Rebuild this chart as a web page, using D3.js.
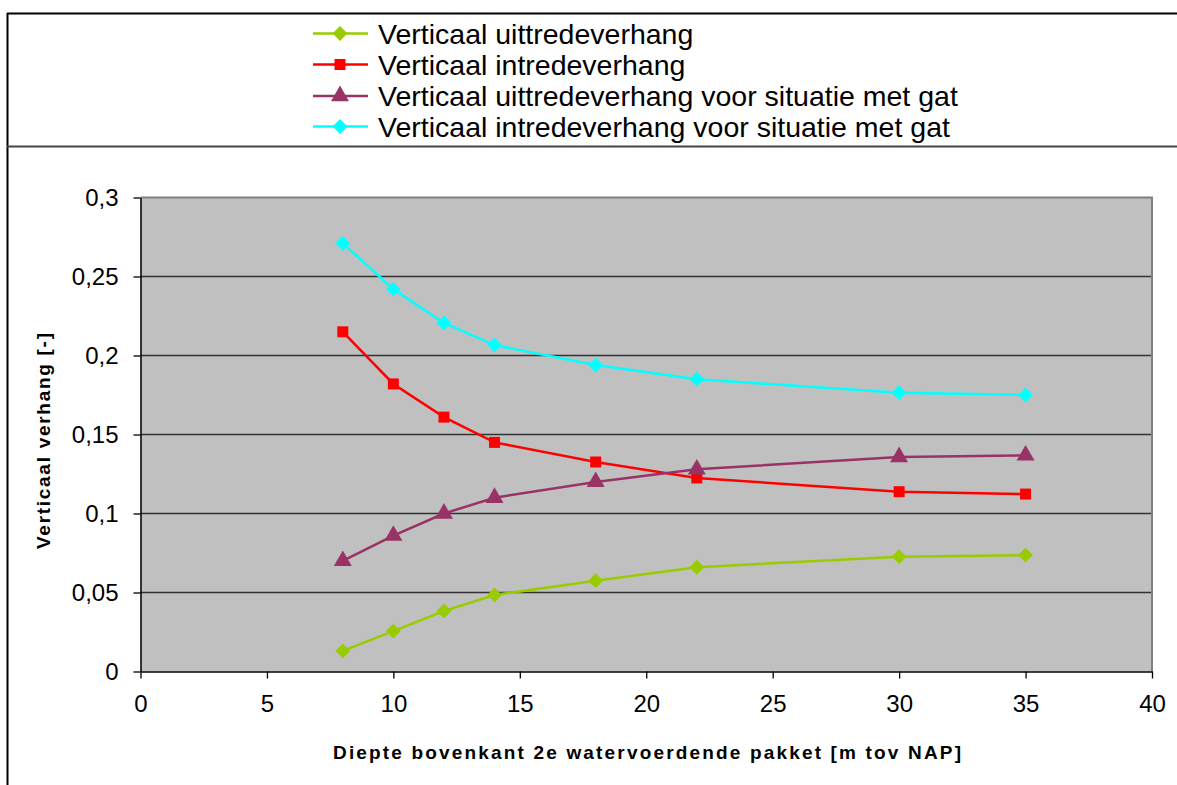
<!DOCTYPE html>
<html>
<head>
<meta charset="utf-8">
<script src="https://cdn.jsdelivr.net/npm/d3@7"></script>
<style>
  html, body { margin: 0; padding: 0; background: #fff; }
  svg { display: block; font-family: "Liberation Sans", Arial, sans-serif; }
</style>
</head>
<body>
<svg id="chart" width="1177" height="785"></svg>
<script>
// Depth of top of 2nd aquifer [m below NAP]
const depths = [8, 10, 12, 14, 18, 22, 30, 35];

// Vertical gradients [-]
const uittrede      = [0.013, 0.0256, 0.0383, 0.0484, 0.0575, 0.066, 0.0727, 0.0737];
const intrede      = [0.215, 0.182, 0.161, 0.145, 0.1326, 0.1225, 0.1138, 0.1123];
const uittredeGat  = [0.070, 0.086, 0.100, 0.110, 0.120, 0.128, 0.1358, 0.1368];
const intredeGat   = [0.271, 0.242, 0.2206, 0.2066, 0.194, 0.185, 0.1765, 0.175];

const seriesNames = [
  "Verticaal uittredeverhang",
  "Verticaal intredeverhang",
  "Verticaal uittredeverhang voor situatie met gat",
  "Verticaal intredeverhang voor situatie met gat"
];

const xTicks = [0, 5, 10, 15, 20, 25, 30, 35, 40];
const yTicks = [0, 0.05, 0.1, 0.15, 0.2, 0.25, 0.3];

const series = [
  { name: seriesNames[0], values: uittrede,     color: "#99cc00", symbol: d3.symbolDiamond2, size: 140 },
  { name: seriesNames[1], values: intrede,      color: "#ff0000", symbol: d3.symbolSquare,   size: 121 },
  { name: seriesNames[2], values: uittredeGat,  color: "#993366", symbol: d3.symbolTriangle, size: 140 },
  { name: seriesNames[3], values: intredeGat,   color: "#00ffff", symbol: d3.symbolDiamond2, size: 140 }
];

const svg = d3.select("#chart");

// Outer frame: legend band on top, chart below
svg.append("line").attr("x1", 7.5).attr("x2", 7.5).attr("y1", 13).attr("y2", 785)
  .attr("stroke", "#000").attr("stroke-width", 2);
svg.append("line").attr("x1", 7).attr("x2", 1177).attr("y1", 13.5).attr("y2", 13.5)
  .attr("stroke", "#000").attr("stroke-width", 2);
svg.append("line").attr("x1", 7).attr("x2", 1177).attr("y1", 146.5).attr("y2", 146.5)
  .attr("stroke", "#444").attr("stroke-width", 2);

// Plot area
const plotLeft = 140.5, plotRight = 1152, plotTop = 197.5, plotBottom = 671.5;
const x = d3.scaleLinear().domain([0, 40]).range([plotLeft, plotRight]);
const y = d3.scaleLinear().domain([0, 0.3]).range([plotBottom, plotTop]);

svg.append("rect")
  .attr("x", plotLeft).attr("y", plotTop)
  .attr("width", plotRight - plotLeft).attr("height", plotBottom - plotTop)
  .attr("fill", "#c0c0c0");

// Horizontal gridlines
svg.append("g")
  .selectAll("line")
  .data(yTicks.filter(t => t > 0 && t < 0.3))
  .join("line")
  .attr("x1", plotLeft).attr("x2", plotRight)
  .attr("y1", d => y(d)).attr("y2", d => y(d))
  .attr("stroke", "#333").attr("stroke-width", 1.3);

// Plot area border (top and right)
svg.append("path")
  .attr("d", `M${plotLeft},${plotTop}H${plotRight}V${plotBottom}`)
  .attr("fill", "none").attr("stroke", "#808080").attr("stroke-width", 2);

const fmt = d => String(d).replace(".", ",");

// Y axis
const yAxis = svg.append("g")
  .attr("transform", `translate(${plotLeft},0)`)
  .call(d3.axisLeft(y).tickValues(yTicks).tickFormat(fmt).tickSize(7).tickSizeOuter(0).tickPadding(15));
yAxis.select(".domain").attr("stroke", "#000").attr("stroke-width", 1.5);
yAxis.selectAll(".tick line").attr("stroke", "#000").attr("stroke-width", 1.3);
yAxis.selectAll("text").attr("font-size", 24).attr("fill", "#000")
  .attr("font-family", "Liberation Sans, Arial, sans-serif");

// X axis
const xAxis = svg.append("g")
  .attr("transform", `translate(0,${plotBottom})`)
  .call(d3.axisBottom(x).tickValues(xTicks).tickFormat(d => d).tickSize(7).tickSizeOuter(0).tickPadding(16));
xAxis.select(".domain").attr("stroke", "#000").attr("stroke-width", 1.5);
xAxis.selectAll(".tick line").attr("stroke", "#000").attr("stroke-width", 1.3);
xAxis.selectAll("text").attr("font-size", 24).attr("fill", "#000")
  .attr("font-family", "Liberation Sans, Arial, sans-serif");

// Axis titles
svg.append("text")
  .attr("transform", "translate(50,441) rotate(-90)")
  .attr("text-anchor", "middle")
  .attr("font-size", 19).attr("font-weight", "bold")
  .attr("textLength", 216).attr("lengthAdjust", "spacing")
  .text("Verticaal verhang [-]");

svg.append("text")
  .attr("x", 647).attr("y", 759)
  .attr("text-anchor", "middle")
  .attr("font-size", 19).attr("font-weight", "bold")
  .attr("textLength", 628).attr("lengthAdjust", "spacing")
  .text("Diepte bovenkant 2e watervoerdende pakket [m tov NAP]");

// Series lines and markers
const line = d3.line().x(d => x(d[0])).y(d => y(d[1]));
series.forEach(s => {
  const pts = depths.map((d, i) => [d, s.values[i]]);
  svg.append("path")
    .datum(pts)
    .attr("d", line)
    .attr("fill", "none")
    .attr("stroke", s.color)
    .attr("stroke-width", 2.5);
  svg.append("g")
    .selectAll("path")
    .data(pts)
    .join("path")
    .attr("transform", d => `translate(${x(d[0])},${y(d[1])})`)
    .attr("d", d3.symbol().type(s.symbol).size(s.size))
    .attr("fill", s.color);
});

// Legend
const legend = svg.append("g");
const rowY = [33.5, 64.5, 96, 126.5];
series.forEach((s, i) => {
  const g = legend.append("g").attr("transform", `translate(0,${rowY[i]})`);
  g.append("line").attr("x1", 313).attr("x2", 368).attr("y1", 0).attr("y2", 0)
    .attr("stroke", s.color).attr("stroke-width", 2.5);
  g.append("path").attr("transform", "translate(340,0)")
    .attr("d", d3.symbol().type(s.symbol).size(s.size)).attr("fill", s.color);
  g.append("text").attr("x", 378).attr("y", 10)
    .attr("font-size", 28.5).attr("fill", "#000")
    .text(s.name);
});
</script>
</body>
</html>
